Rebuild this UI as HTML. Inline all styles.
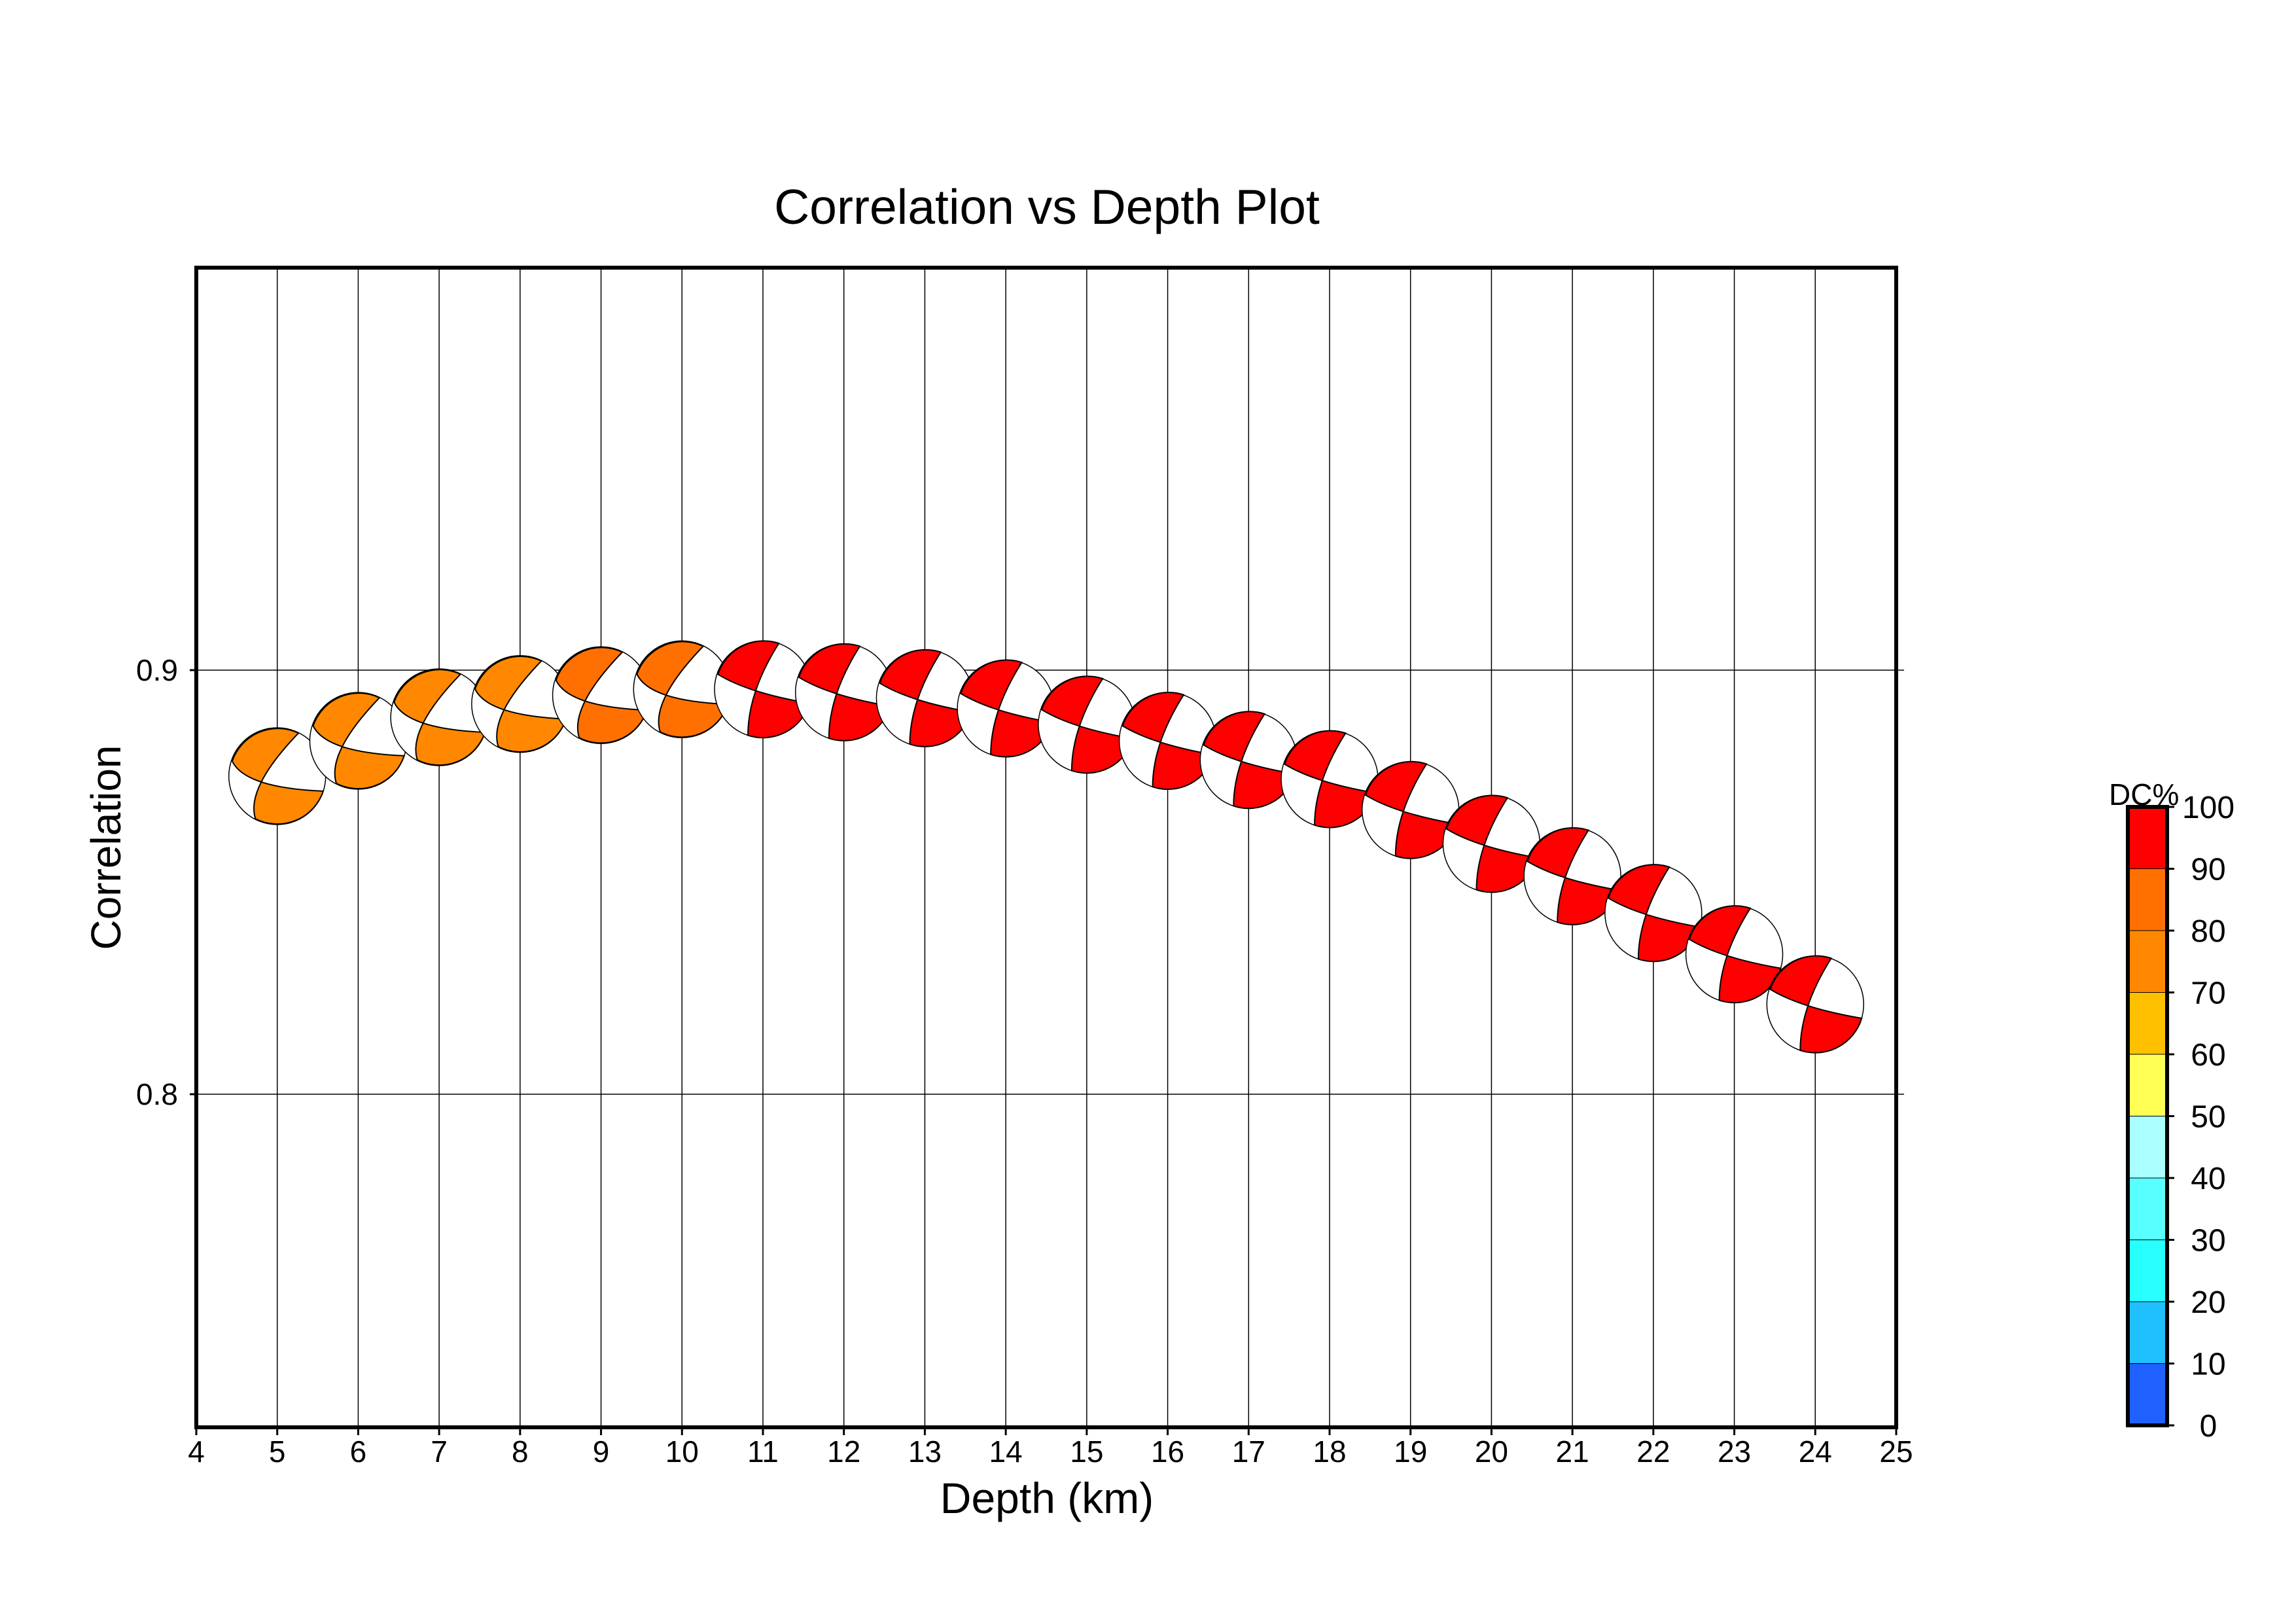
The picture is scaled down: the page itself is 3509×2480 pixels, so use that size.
<!DOCTYPE html>
<html><head><meta charset="utf-8"><style>body{margin:0;background:#fff}svg{display:block}</style></head>
<body>
<svg id="s" xmlns="http://www.w3.org/2000/svg" width="3509" height="2480" viewBox="0 0 3509 2480" font-family="Liberation Sans, sans-serif">
<rect width="3509" height="2480" fill="#fff"/>
<text x="1600" y="342" font-size="75" text-anchor="middle">Correlation vs Depth Plot</text>
<text x="1600" y="2312" font-size="66" text-anchor="middle">Depth (km)</text>
<text transform="translate(184,1295) rotate(-90)" font-size="64" text-anchor="middle">Correlation</text>
<g id="grid" stroke="#000" stroke-width="1.5"></g>
<g id="balls"></g>
<rect x="300" y="409" width="2598" height="1772" fill="none" stroke="#000" stroke-width="6"/>
<g id="ticks" font-size="46" text-anchor="middle"></g>
<g id="cb"></g>
</svg>
<script>
const NS="http://www.w3.org/2000/svg";
function el(p,t,a,txt){const e=document.createElementNS(NS,t);for(const k in a)e.setAttribute(k,a[k]);if(txt!==undefined)e.textContent=txt;p.appendChild(e);return e;}
const X=d=>300+(d-4)*123.714;
const g=document.getElementById('grid'),tk=document.getElementById('ticks');
for(let d=5;d<=24;d++)el(g,'line',{x1:X(d),y1:409,x2:X(d),y2:2181});
[1024,1672].forEach(y=>el(g,'line',{x1:300,y1:y,x2:2910,y2:y}));
el(tk,'line',{x1:290,y1:1024,x2:300,y2:1024,stroke:'#000','stroke-width':3});
el(tk,'line',{x1:290,y1:1672,x2:300,y2:1672,stroke:'#000','stroke-width':3});
el(tk,'text',{x:272,y:1040,'text-anchor':'end'},'0.9');
el(tk,'text',{x:272,y:1688,'text-anchor':'end'},'0.8');
for(let d=4;d<=25;d++){el(tk,'line',{x1:X(d),y1:2181,x2:X(d),y2:2193,stroke:'#000','stroke-width':3});el(tk,'text',{x:X(d),y:2234},String(d));}
const ty=[530,506,490,481,475,471,471,473,477,484,495,506,519,532,553,576,598,623,651,685];
const shO={At:[0.44,-0.89],Ab:[-0.45,0.88],Bl:[-0.93,-0.31],Br:[0.95,0.31],I:[-0.33,0.12]};
const shR={At:[0.33,-0.95],Ab:[-0.31,0.95],Bl:[-0.93,-0.31],Br:[0.96,0.29],I:[-0.15,0.03]};
const B=document.getElementById('balls');
for(let i=0;i<20;i++){
 const d=i+5,cx=X(d),cy=ty[i]*2.249-6,r=74;
 const col=d<=8?'#FF8800':(d<=10?'#FF7000':'#FF0000');
 const s=d<=10?shO:shR;
 const P=p=>[cx+p[0]*r,cy+p[1]*r];
 const At=P(s.At),Ab=P(s.Ab),Bl=P(s.Bl),Br=P(s.Br),I=P(s.I);
 const CA=[2*I[0]-(At[0]+Ab[0])/2,2*I[1]-(At[1]+Ab[1])/2];
 const CB=[2*I[0]-(Bl[0]+Br[0])/2,2*I[1]-(Bl[1]+Br[1])/2];
 const m=(a,b)=>[(a[0]+b[0])/2,(a[1]+b[1])/2];
 const f=p=>p[0].toFixed(1)+' '+p[1].toFixed(1);
 const gg=el(B,'g',{});
 el(gg,'circle',{cx:cx,cy:cy,r:r,fill:'#fff'});
 const p1=`M${f(At)} A${r} ${r} 0 0 0 ${f(Bl)} Q${f(m(Bl,CB))} ${f(I)} Q${f(m(At,CA))} ${f(At)}Z`;
 const p2=`M${f(Br)} A${r} ${r} 0 0 1 ${f(Ab)} Q${f(m(Ab,CA))} ${f(I)} Q${f(m(Br,CB))} ${f(Br)}Z`;
 el(gg,'path',{d:p1,fill:col,stroke:'#000','stroke-width':2});
 el(gg,'path',{d:p2,fill:col,stroke:'#000','stroke-width':2});
 el(gg,'circle',{cx:cx,cy:cy,r:r,fill:'none',stroke:'#000','stroke-width':1.5});
}
const cb=document.getElementById('cb');
const cols=['#2060FF','#20C0FF','#28FFFF','#58FFFF','#AAFFFF','#FFFF55','#FFC000','#FF8800','#FF7000','#FF0000'];
const y0=2178,y1=1233,h=(y0-y1)/10,bx=3252,bw=60;
for(let k=0;k<10;k++)el(cb,'rect',{x:bx,y:y0-(k+1)*h,width:bw,height:h,fill:cols[k],stroke:'#000','stroke-width':1});
el(cb,'rect',{x:bx,y:y1,width:bw,height:y0-y1,fill:'none',stroke:'#000','stroke-width':6});
for(let k=0;k<=10;k++){const y=y0-k*h;el(cb,'line',{x1:bx+bw,y1:y,x2:bx+bw+11,y2:y,stroke:'#000','stroke-width':3});
 el(cb,'text',{x:3375,y:y+17,'font-size':48,'text-anchor':'middle'},String(k*10));}
el(cb,'text',{x:3223,y:1230,'font-size':46},'DC%');
</script>
</body></html>
